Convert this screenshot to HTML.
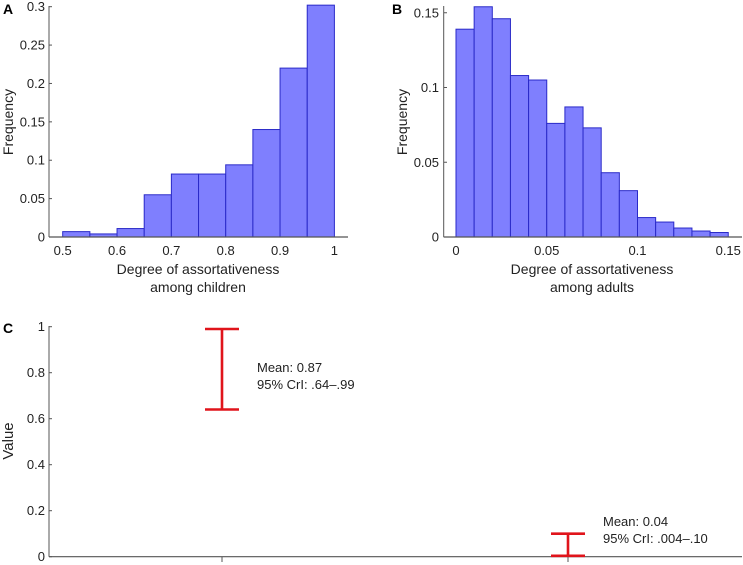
<!DOCTYPE html>
<html><head><meta charset="utf-8"><style>
body{margin:0;background:#fff;}
svg{display:block;font-family:"Liberation Sans",Arial,sans-serif;}
</style></head><body>
<svg id="fig" width="743" height="565" viewBox="0 0 743 565"></svg>
<script>
const aBinStarts=[0.5,0.55,0.6,0.65,0.7,0.75,0.8,0.85,0.9,0.95];
const aFreq=[0.007,0.004,0.011,0.055,0.082,0.082,0.094,0.14,0.22,0.302];
const aXTicks=[0.5,0.6,0.7,0.8,0.9,1];
const aYTicks=[0,0.05,0.1,0.15,0.2,0.25,0.3];
const bBinStarts=[0,0.01,0.02,0.03,0.04,0.05,0.06,0.07,0.08,0.09,0.1,0.11,0.12,0.13,0.14];
const bFreq=[0.139,0.154,0.146,0.108,0.105,0.076,0.087,0.073,0.043,0.031,0.013,0.010,0.006,0.004,0.003];
const bXTicks=[0,0.05,0.1,0.15];
const bYTicks=[0,0.05,0.1,0.15];
const cCategories=["children","adults"];
const cMeans=[0.87,0.04];
const cLow=[0.64,0.004];
const cHigh=[0.99,0.10];
const cMeanLabels=["Mean: 0.87","Mean: 0.04"];
const cCrILabels=["95% CrI: .64\u2013.99","95% CrI: .004\u2013.10"];
const cYTicks=[0,0.2,0.4,0.6,0.8,1];

const svg=document.getElementById('fig');
const NS='http://www.w3.org/2000/svg';
function el(t,a,txt){const e=document.createElementNS(NS,t);for(const k in a)e.setAttribute(k,a[k]);if(txt!==undefined)e.textContent=txt;svg.appendChild(e);return e;}
const AX='#555';

// Panel A
const axA=v=>62.7+(v-0.5)*543.4, ayA=v=>237-v*767.7;
aBinStarts.forEach((s,i)=>{const r=el('rect',{x:axA(s),y:ayA(aFreq[i]),width:axA(s+0.05)-axA(s),height:237-ayA(aFreq[i]),fill:'#7f7ffe',stroke:'#2a2ac8','stroke-width':1});
});
let e=el('line',{x1:49,y1:6,x2:49,y2:237,stroke:AX});
e=el('line',{x1:49,y1:237,x2:348,y2:237,stroke:AX,'stroke-width':1.2});
aYTicks.forEach(v=>{el('line',{x1:49,y1:ayA(v),x2:52,y2:ayA(v),stroke:AX});const t=el('text',{x:45,y:ayA(v)+4.5,'text-anchor':'end','font-size':13,fill:'#222'},String(v));});
aXTicks.forEach(v=>{const t=el('text',{x:axA(v),y:255,'text-anchor':'middle','font-size':13,fill:'#222'},String(v));});
e=el('text',{x:198,y:274,'text-anchor':'middle','font-size':14,fill:'#222'},'Degree of assortativeness');
e=el('text',{x:198,y:292,'text-anchor':'middle','font-size':14,fill:'#222'},'among children');
e=el('text',{x:0,y:0,transform:'translate(13,122) rotate(-90)','text-anchor':'middle','font-size':14,fill:'#222'},'Frequency');
e=el('text',{x:3,y:14,'font-size':14,'font-weight':'bold',fill:'#000'},'A');

// Panel B
const axB=v=>456+v*1815, ayB=v=>237-v*1495;
bBinStarts.forEach((s,i)=>{const r=el('rect',{x:axB(s),y:ayB(bFreq[i]),width:axB(s+0.01)-axB(s),height:237-ayB(bFreq[i]),fill:'#7f7ffe',stroke:'#2a2ac8','stroke-width':1});
});
e=el('line',{x1:443.7,y1:6,x2:443.7,y2:237,stroke:AX});
e=el('line',{x1:443.7,y1:237,x2:742,y2:237,stroke:AX,'stroke-width':1.2});
bYTicks.forEach(v=>{el('line',{x1:443.7,y1:ayB(v),x2:447,y2:ayB(v),stroke:AX});const t=el('text',{x:439,y:ayB(v)+4.5,'text-anchor':'end','font-size':13,fill:'#222'},String(v));});
bXTicks.forEach(v=>{const t=el('text',{x:axB(v),y:255,'text-anchor':'middle','font-size':13,fill:'#222'},String(v));});
e=el('text',{x:592,y:274,'text-anchor':'middle','font-size':14,fill:'#222'},'Degree of assortativeness');
e=el('text',{x:592,y:292,'text-anchor':'middle','font-size':14,fill:'#222'},'among adults');
e=el('text',{x:0,y:0,transform:'translate(407,122) rotate(-90)','text-anchor':'middle','font-size':14,fill:'#222'},'Frequency');
e=el('text',{x:392,y:14,'font-size':14,'font-weight':'bold',fill:'#000'},'B');

// Panel C
const cx=[222,568], ayC=v=>556.7-v*230;
e=el('line',{x1:49,y1:326,x2:49,y2:556.7,stroke:AX});
e=el('line',{x1:49,y1:556.7,x2:742,y2:556.7,stroke:AX,'stroke-width':1.2});
cYTicks.forEach(v=>{el('line',{x1:49,y1:ayC(v),x2:52,y2:ayC(v),stroke:AX});const t=el('text',{x:45,y:ayC(v)+4.5,'text-anchor':'end','font-size':13,fill:'#222'},String(v));});
e=el('text',{x:0,y:0,transform:'translate(13,441) rotate(-90)','text-anchor':'middle','font-size':15,fill:'#222'},'Value');
e=el('text',{x:3,y:333,'font-size':14,'font-weight':'bold',fill:'#000'},'C');
cCategories.forEach((c,i)=>{const x=cx[i];
el('line',{x1:x,y1:556.7,x2:x,y2:562,stroke:AX});
const g=el('path',{d:`M${x-17},${ayC(cHigh[i])}H${x+17}M${x},${ayC(cHigh[i])}V${ayC(cLow[i])}M${x-17},${ayC(cLow[i])}H${x+17}`,stroke:'#e0141b','stroke-width':2.6,fill:'none'});

const ty=i===0?372:526;
let t=el('text',{x:x+35,y:ty,'font-size':13,fill:'#222'},cMeanLabels[i]);
t=el('text',{x:x+35,y:ty+17,'font-size':13,fill:'#222'},cCrILabels[i]);
});
</script>
</body></html>
